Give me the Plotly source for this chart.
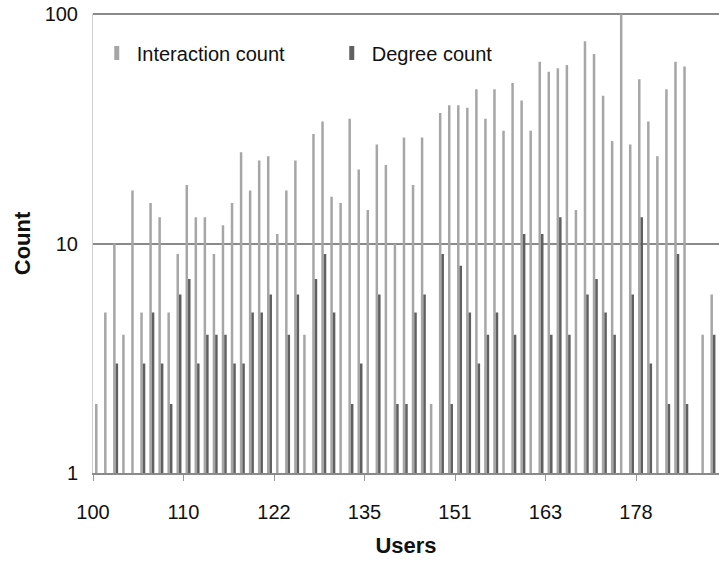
import plotly.graph_objects as go

# User IDs (category axis); only every 10th is labelled in the reference
users = [100, 101, 102, 103, 104, 105, 106, 107, 108, 109,
         110, 111, 112, 114, 115, 116, 117, 119, 120, 121,
         122, 123, 125, 126, 128, 129, 130, 132, 133, 134,
         135, 137, 138, 140, 142, 143, 145, 147, 148, 150,
         151, 152, 154, 155, 156, 158, 159, 160, 161, 162,
         163, 164, 166, 167, 169, 171, 172, 174, 175, 177,
         178, 179, 181, 182, 184, 185, 186, 188, 189, 190]

interaction_count = [2, 5, 10, 4, 17, 5, 15, 13, 5, 9,
                     18, 13, 13, 9, 12, 15, 25, 17, 23, 24,
                     11, 17, 23, 4, 30, 34, 16, 15, 35, 21,
                     14, 27, 22, 10, 29, 18, 29, 2, 37, 40,
                     40, 39, 47, 35, 47, 31, 50, 42, 31, 62,
                     56, 58, 60, 14, 76, 67, 44, 28, 120, 27,
                     52, 34, 24, 47, 62, 59, 1, 4, 6, 6]

degree_count = [1, 1, 3, 1, 1, 3, 5, 3, 2, 6,
                7, 3, 4, 4, 4, 3, 3, 5, 5, 6,
                1, 4, 6, 1, 7, 9, 5, 1, 2, 3,
                1, 6, 1, 2, 2, 5, 6, 1, 9, 2,
                8, 5, 3, 4, 5, 1, 4, 11, 1, 11,
                4, 13, 4, 1, 6, 7, 5, 4, 1, 6,
                13, 3, 1, 2, 9, 2, 1, 1, 4, 1]

labelled_users = [100, 110, 122, 135, 151, 163, 178]

idx = list(range(len(users)))
tick_pos = [users.index(u) - 0.5 for u in labelled_users]
tick_txt = [str(u) for u in labelled_users]

LIGHT = "#a6a6a6"
DARK = "#606060"
GRID = "#8a8a8a"
FONT = "Liberation Sans, Arial, Helvetica, sans-serif"

fig = go.Figure()
fig.add_trace(go.Bar(x=idx, y=interaction_count, name="Interaction count",
                     marker=dict(color=LIGHT, line=dict(width=0)),
                     customdata=users, legendgroup="i", showlegend=False,
                     hovertemplate="User %{customdata}<br>Interactions: %{y}<extra></extra>"))
fig.add_trace(go.Bar(x=idx, y=degree_count, name="Degree count",
                     marker=dict(color=DARK, line=dict(width=0)),
                     customdata=users, legendgroup="d", showlegend=False,
                     hovertemplate="User %{customdata}<br>Degree: %{y}<extra></extra>"))
# legend keys (narrow Excel-style rectangles)
fig.add_trace(go.Scatter(x=[None], y=[None], mode="markers", name="Interaction count",
                         legendgroup="i",
                         marker=dict(symbol="line-ns", size=10, line=dict(width=5, color=LIGHT))))
fig.add_trace(go.Scatter(x=[None], y=[None], mode="markers", name="Degree count",
                         legendgroup="d",
                         marker=dict(symbol="line-ns", size=10, line=dict(width=5, color=DARK))))

fig.update_layout(
    width=719, height=561,
    margin=dict(l=93, r=0, t=14, b=88),
    paper_bgcolor="white", plot_bgcolor="white",
    barmode="group", bargap=0.447, bargroupgap=0,
    font=dict(family=FONT, size=20, color="#111"),
    showlegend=True,
    legend=dict(orientation="h", x=0.006, y=0.915, xanchor="left", yanchor="middle",
                bgcolor="rgba(0,0,0,0)", font=dict(size=20, color="#111"),
                itemwidth=30, entrywidth=190, entrywidthmode="pixels"),
    xaxis=dict(range=[-0.5, 68.67], tickmode="array", tickvals=tick_pos, ticktext=tick_txt,
               ticks="outside", ticklen=6, tickcolor="#999", tickwidth=1,
               ticklabelstandoff=14,
               showgrid=False, zeroline=False, showline=True, linecolor=GRID, linewidth=2,
               tickfont=dict(size=20, color="#111"),
               title=dict(text="<b>Users</b>", font=dict(size=22, color="#111"), standoff=16)),
    yaxis=dict(type="log", range=[0, 2], tickmode="array", tickvals=[1, 10, 100],
               ticktext=["1", "10", "100"], ticks="", ticklabelstandoff=10,
               showgrid=True, gridcolor=GRID, gridwidth=2,
               zeroline=False, showline=True, linecolor="#d0d0d0", linewidth=1,
               tickfont=dict(size=20, color="#111"),
               title=dict(text="<b>Count</b>", font=dict(size=22, color="#111"), standoff=7)),
    shapes=[dict(type="line", xref="paper", yref="paper", x0=0, x1=1, y0=1, y1=1,
                 line=dict(color=GRID, width=2), layer="below")],
)

fig.write_html("out.html")
